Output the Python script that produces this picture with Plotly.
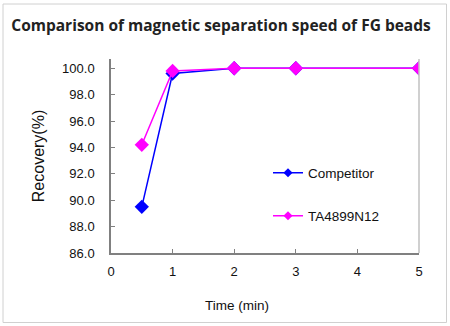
import plotly.graph_objects as go

time_min = [0.5, 1, 2, 3, 5]
competitor = [89.5, 99.6, 100.0, 100.0, 100.0]
ta4899n12 = [94.2, 99.8, 100.0, 100.0, 100.0]
x_ticks = [0, 1, 2, 3, 4, 5]
y_ticks = [86, 88, 90, 92, 94, 96, 98, 100]

L, R, T, B = 111, 31, 59, 73
W, H = 450, 326
pw, ph = W - L - R, H - T - B

def px(x):
    return (x - L) / pw

def py(y):
    return (H - B - y) / ph

series = [("Competitor", competitor, "#0000FF", "legend"),
          ("TA4899N12", ta4899n12, "#FF00FF", "legend2")]

fig = go.Figure()
for name, vals, col, lg in series:
    fig.add_trace(go.Scatter(
        x=time_min, y=vals, name=name, mode="lines+markers",
        line=dict(color=col, width=1.5),
        marker=dict(symbol="diamond", size=11, color=col),
        showlegend=False))
for name, vals, col, lg in series:
    fig.add_trace(go.Scatter(
        x=[None], y=[None], name=name, mode="lines+markers",
        line=dict(color=col, width=1.5),
        marker=dict(symbol="diamond", size=7, color=col),
        legend=lg, showlegend=True))

tick_font = dict(family="Liberation Sans, Arial", size=13, color="#111111")
leg_font = dict(family="Liberation Sans, Arial", size=13.5, color="#111111")
fig.update_layout(
    width=W, height=H,
    margin=dict(l=L, r=R, t=T, b=B),
    paper_bgcolor="white", plot_bgcolor="white",
    title=dict(text="<b>Comparison of magnetic separation speed of FG beads</b>",
               x=221 / W, xanchor="center", y=1 - 26 / H, yanchor="middle",
               font=dict(family="Open Sans", size=15.5, color="#222222")),
    xaxis=dict(range=[0, 5], tickvals=x_ticks, ticktext=[str(v) for v in x_ticks],
               showgrid=False, zeroline=False, showline=True, linecolor="#808080",
               linewidth=1.5, ticks="inside", ticklen=4, tickcolor="#808080",
               tickfont=tick_font, ticklabelstandoff=6),
    yaxis=dict(range=[86, 100.7], tickvals=y_ticks, ticktext=[f"{v:.1f}" for v in y_ticks],
               showgrid=False, zeroline=False, showline=True, linecolor="#808080",
               linewidth=1.5, ticks="inside", ticklen=4, tickcolor="#808080",
               tickfont=tick_font, ticklabelstandoff=12,
               title=dict(text="Recovery(%)", standoff=14,
                          font=dict(family="Liberation Sans, Arial", size=16, color="#111111"))),
    legend=dict(x=px(268), y=py(173), xanchor="left", yanchor="middle",
                bgcolor="rgba(0,0,0,0)", font=leg_font),
    legend2=dict(x=px(268), y=py(216), xanchor="left", yanchor="middle",
                 bgcolor="rgba(0,0,0,0)", font=leg_font),
    showlegend=True,
)
fig.add_annotation(text="Time (min)", xref="paper", yref="paper", x=px(236.5), y=py(305),
                   showarrow=False, xanchor="center", yanchor="middle",
                   font=dict(family="Liberation Sans, Arial", size=13.5, color="#111111"))
fig.add_shape(type="line", xref="paper", yref="paper", x0=1, x1=1, y0=0, y1=1,
              line=dict(color="#c0c0c0", width=1.5))
fig.add_shape(type="rect", xref="paper", yref="paper", x0=px(3), x1=px(446.5),
              y0=py(322.5), y1=py(4), line=dict(color="#d0d0d0", width=1))
fig.write_html("out.html")
